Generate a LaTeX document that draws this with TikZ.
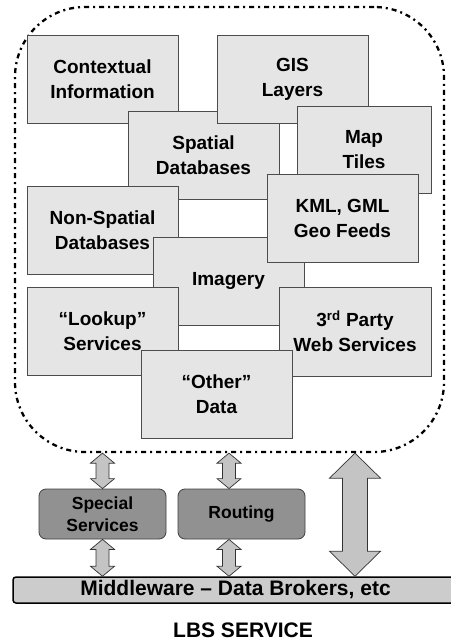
\documentclass[tikz,border=0pt]{standalone}
\usepackage{fontspec}
\setmainfont{Liberation Sans}
\usetikzlibrary{calc}
\tikzset{
  src/.style ={rectangle, draw=black!70, fill=black!10, line width=0.8pt,
               minimum width=151pt, minimum height=88pt, align=center,
               font=\fontsize{19}{25}\selectfont\bfseries},
  svc/.style ={rectangle, draw=black!75, fill=black!43, line width=0.8pt,
               rounded corners=7pt, minimum width=127pt, minimum height=50pt,
               align=center, font=\fontsize{17.5}{22}\selectfont\bfseries},
  pool/.style={rectangle, draw=black, line width=2.3pt, rounded corners=70pt,
               dash pattern=on 5pt off 4pt on 2pt off 4pt,
               minimum width=429pt, minimum height=445pt},
  bar/.style ={rectangle, draw=black, fill=black!20, line width=1.5pt,
               rounded corners=3pt, minimum width=445pt, minimum height=26pt,
               font=\fontsize{21}{24}\selectfont\bfseries},
  fatarr/.style={draw=black!80, fill=black!23, line width=0.7pt, line join=miter}
}
% vertical double arrow: top tip, bottom tip, shaft half width, head half width, head length
\newcommand{\fatarrow}[5]{%
  \draw[fatarr] (#1) -- ++(#4,#5) -- ++({-#4+#3},0) -- ($(#2)+(#3,-#5)$)
    -- ++({#4-#3},0) -- (#2) -- ++(-#4,-#5) -- ++({#4-#3},0)
    -- ($(#1)+(-#3,#5)$) -- ++({-#4+#3},0) -- cycle;}

\begin{document}
\begin{tikzpicture}[x=1pt, y=-1pt]
    \useasboundingbox (0,0) rectangle (450,644);
    \node[pool] (pool) at (229.5,229.5) {};
    % data sources, back to front
    \node[src] (ctx)    at (102.5,79)    {Contextual\\Information};
    \node[src] (spat)   at (203.5,155)   {Spatial\\Databases};
    \node[src] (nonsp)  at (102.5,230.5) {Non-Spatial\\Databases};
    \node[src] (gis)    at (292.5,79)    {GIS\\Layers};
    \node[src, minimum width=134pt, minimum height=87pt] (tiles) at (364,149.5) {Map\\Tiles};
    \node[src] (img)    at (228.5,281)   {Imagery};
    \node[src] (kml)    at (342.5,218)   {KML, GML\\Geo Feeds};
    \node[src] (look)   at (102.5,331.5) {“Lookup”\\Services};
    \node[src, minimum width=152pt, minimum height=89pt] (third) at (355,331.5) {3\textsuperscript{rd} Party\\Web Services};
    \node[src] (other)  at (216.5,394.5) {“Other”\\Data};
    % services and middleware
    \node[svc] (spec) at (102.5,514) {Special\\Services};
    \node[svc] (rout) at (241.5,514) {Routing};
    \node[bar] (mw)   at (235.5,590) {Middleware – Data Brokers, etc};
    \node[font=\fontsize{21}{24}\selectfont\bfseries] (lbs) at (243,630) {LBS SERVICE};
    \coordinate (rtop) at ($(rout.north)+(-12.5,0)$);
    \coordinate (rbot) at ($(rout.south)+(-12.5,0)$);
    % arrows
    \fatarrow{pool.south -| spec.north}{spec.north}{6.5}{12}{10}
    \fatarrow{spec.south}{mw.north -| spec.south}{6.5}{12}{10}
    \fatarrow{pool.south -| rtop}{rtop}{6.5}{12}{10}
    \fatarrow{rbot}{mw.north -| rbot}{6.5}{12}{10}
    \fatarrow{pool.south -| third.south}{mw.north -| third.south}{12.5}{25.5}{25}
\end{tikzpicture}
\end{document}
